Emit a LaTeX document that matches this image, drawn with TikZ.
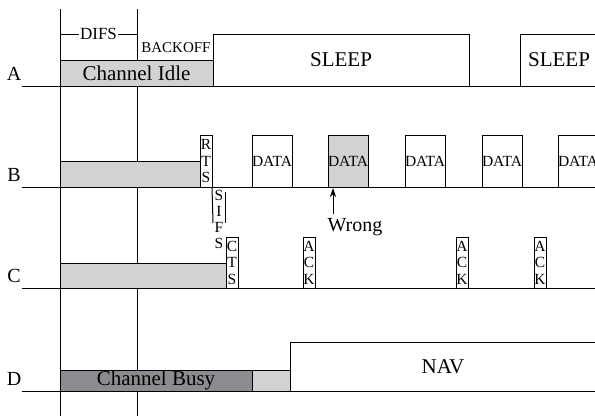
\documentclass[tikz,border=0pt]{standalone}
\usepackage{fontspec}
\setmainfont{Liberation Serif}
\usetikzlibrary{arrows.meta}
\definecolor{idle}{RGB}{210,210,212}
\definecolor{busy}{RGB}{140,140,144}
\newcommand{\fsz}[1]{\fontsize{#1}{1.2\dimexpr#1pt\relax}\selectfont}

\begin{document}
\begin{tikzpicture}[x=1pt,y=-1pt,line width=1pt,
  frame/.style={draw,line width=1pt,anchor=south west,inner sep=0pt,
                outer sep=0pt,align=center},
  wide/.style={frame,font=\fsz{21}},
  datab/.style={frame,minimum width=38pt,minimum height=52pt,font=\fsz{15.5}},
  ctrl/.style={frame,minimum width=12pt,minimum height=51pt,
               font=\fontsize{15.5}{16.5}\selectfont},
  lane/.style={anchor=base,font=\fsz{20}}]
  \useasboundingbox (0,0) rectangle (595,416);
  % slot boundaries
  \draw (60,9) -- (60,416);
  \draw (137,9) -- (137,416);
  \draw (60,34) -- (137,34)
    node[midway,fill=white,inner sep=1.5pt,font=\fsz{17}] (difs) {DIFS};
  \node[font=\fsz{15}] (backoff) at (176,48) {BACKOFF};
  % lanes
  \foreach \lab/\y in {A/86,B/187,C/288,D/391}{
    \node[lane] (lab\lab) at (14,\y-6) {\lab};
    \draw (22,\y) -- (595,\y);
  }
  % node A
  \node[wide,fill=idle,minimum width=153pt,minimum height=26pt] (idleA) at (60,86) {Channel Idle};
  \node[wide,fill=white,minimum width=256pt,minimum height=52pt] (sleep1) at (213,86) {SLEEP};
  \node[wide,fill=white,minimum width=78pt,minimum height=52pt] (sleep2) at (520,86) {SLEEP};
  % node B
  \node[frame,fill=idle,minimum width=140pt,minimum height=26pt] (idleB) at (60,187) {};
  \node[ctrl,fill=white,minimum height=52pt] (rts) at (200,187) {R\\T\\S};
  \foreach \i/\x in {1/252,2/328,3/405,4/482,5/558}
    \node[datab,fill=white] (data\i) at (\x,187) {DATA};
  \node[datab,fill=idle] (data2) at (328,187) {DATA};
  \node[font=\fsz{20}] (wrong) at (355,227) {Wrong};
  \coordinate (tip) at (333,188);
  \draw[-{Stealth[length=9pt,width=6pt]}] (tip |- wrong.north) -- (tip);
  % SIFS
  \draw (rts.south east) -- (213,223);
  \draw (225,192) -- (225,223);
  \node[align=center,font=\fontsize{15.5}{16}\selectfont] (sifs) at (219,219) {S\\I\\F\\S};
  % node C
  \node[frame,fill=idle,minimum width=166pt,minimum height=25pt] (idleC) at (60,288) {};
  \node[ctrl,fill=white] (cts) at (226,288) {C\\T\\S};
  \foreach \i/\x in {1/303,2/456,3/534}
    \node[ctrl,fill=white] (ack\i) at (\x,288) {A\\C\\K};
  % node D
  \node[wide,fill=busy,minimum width=192pt,minimum height=21pt,font=\fsz{21}] (busyD) at (60,391) {Channel Busy};
  \node[frame,fill=idle,minimum width=38pt,minimum height=21pt] (gapD) at (252,391) {};
  \node[wide,fill=white,minimum width=306pt,minimum height=49pt] (nav) at (290,391) {NAV};
\end{tikzpicture}
\end{document}
